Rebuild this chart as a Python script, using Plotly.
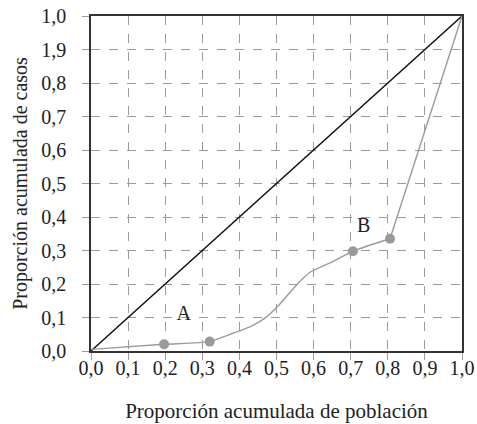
import plotly.graph_objects as go

# Data
tick_vals = [0.0, 0.1, 0.2, 0.3, 0.4, 0.5, 0.6, 0.7, 0.8, 0.9, 1.0]
x_tick_text = ["0,0", "0,1", "0,2", "0,3", "0,4", "0,5", "0,6", "0,7", "0,8", "0,9", "1,0"]
y_tick_text = ["0,0", "0,1", "0,2", "0,3", "0,4", "0,5", "0,6", "0,7", "0,8", "1,9", "1,0"]

equality_x = [0.0, 1.0]
equality_y = [0.0, 1.0]

curve_x = [0.0, 0.197, 0.32, 0.383, 0.43, 0.469, 0.504, 0.554, 0.59, 0.652, 0.706, 0.806]
curve_y = [0.005, 0.02, 0.028, 0.053, 0.073, 0.098, 0.134, 0.197, 0.235, 0.267, 0.298, 0.335]
tail_x = [0.806, 1.0]
tail_y = [0.335, 1.0]

marker_x = [0.197, 0.32, 0.706, 0.806]
marker_y = [0.02, 0.028, 0.298, 0.335]

label_text = ["A", "B"]
label_x = [0.25, 0.735]
label_y = [0.106, 0.369]

FONT = "Liberation Serif"
GRID = "#9b9b9b"
CURVE = "#9a9a9a"
TXT = "#222222"

fig = go.Figure()
fig.add_trace(go.Scatter(x=equality_x, y=equality_y, mode="lines",
                         line=dict(color="#111111", width=1.4), hoverinfo="skip"))
fig.add_trace(go.Scatter(x=curve_x, y=curve_y, mode="lines",
                         line=dict(color=CURVE, width=1.4, shape="spline", smoothing=0.6),
                         hoverinfo="skip"))
fig.add_trace(go.Scatter(x=tail_x, y=tail_y, mode="lines",
                         line=dict(color=CURVE, width=1.4), hoverinfo="skip"))
fig.add_trace(go.Scatter(x=marker_x, y=marker_y, mode="markers",
                         marker=dict(color=CURVE, size=10), hoverinfo="skip"))
fig.add_trace(go.Scatter(x=label_x, y=label_y, mode="text", text=label_text,
                         textfont=dict(family=FONT, size=20, color=TXT),
                         hoverinfo="skip"))

axis_common = dict(
    range=[0, 1],
    tickvals=tick_vals,
    showgrid=True,
    gridcolor=GRID,
    griddash="dash",
    gridwidth=1,
    zeroline=False,
    showline=True,
    linecolor="#333333",
    linewidth=1.5,
    mirror=True,
    ticks="outside",
    ticklen=7,
    tickcolor=GRID,
    tickwidth=1,
    tickfont=dict(family=FONT, size=20, color=TXT),
    automargin=False,
    fixedrange=True,
)

fig.update_xaxes(**axis_common, ticktext=x_tick_text, ticklabelstandoff=-9,
                 title=dict(text="Proporción acumulada de población",
                            font=dict(family=FONT, size=21, color=TXT),
                            standoff=26))
fig.update_yaxes(**axis_common, ticktext=y_tick_text, ticklabelstandoff=12,
                 title=dict(text="Proporción acumulada de casos",
                            font=dict(family=FONT, size=20, color=TXT),
                            standoff=8))

fig.update_layout(
    width=477, height=424,
    margin=dict(l=91, r=15, t=16, b=73),
    plot_bgcolor="white",
    paper_bgcolor="white",
    showlegend=False,
)

fig.write_html("out.html", config={"displayModeBar": False},
               post_script="document.body.style.margin='0';")
